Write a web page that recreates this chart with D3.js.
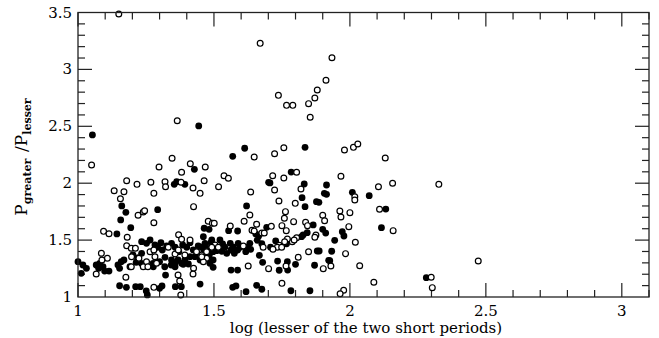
<!DOCTYPE html>
<html><head><meta charset="utf-8">
<script src="https://cdn.jsdelivr.net/npm/d3@7"></script>
<style>body{margin:0;background:#fff}svg{display:block}</style>
</head><body>
<script>
const xTicks=[1,1.5,2,2.5,3];
const yTicks=[1,1.5,2,2.5,3,3.5];
const xTickLabels=["1","1.5","2","2.5","3"];
const yTickLabels=["1","1.5","2","2.5","3","3.5"];
const xTitle="log (lesser of the two short periods)";

const filledX=[1.053,1.444,1.569,1.613,1.835,1.428,
2.009,2.071,2.132,2.116,1.972,1.978,1.944,1.933,1.926,2.281,
1.784,1.701,1.706,1.832,1.914,1.906,1.914,1.824,1.877,1.886,1.620,1.835,1.464,1.482,1.694,1.587,1.554,1.865,1.843,1.828,1.822,1.900,1.911,1.767,1.727,1.708,1.654,1.664,1.659,1.676,1.632,1.624,1.635,1.617,1.667,1.589,1.596,1.571,1.560,1.563,1.587,1.575,1.522,1.532,1.540,1.525,1.510,1.529,1.547,1.461,1.467,1.455,1.479,1.492,1.483,1.463,1.497,1.563,1.587,1.679,1.734,1.770,1.740,1.771,1.800,1.870,1.922,1.880,1.887,1.449,1.569,1.581,1.618,1.657,1.676,1.783,1.853,
1.354,1.363,1.393,1.161,1.176,1.293,1.157,1.194,1.143,
1.234,1.252,1.265,1.283,1.293,1.305,1.310,1.326,1.344,1.357,1.371,1.385,1.400,1.412,1.424,1.442,1.477,1.489,1.497,1.320,1.344,1.357,1.381,1.393,1.406,1.412,1.430,1.449,1.467,1.485,1.497,1.234,1.219,1.191,1.277,1.357,
1.000,1.018,1.031,1.012,1.067,1.080,1.092,1.076,1.098,1.114,1.147,1.159,1.169,1.153,1.202,1.221,1.214,1.233,1.276,1.300,1.319,1.322,1.343,1.368,1.387,1.358,1.380,1.153,1.178,1.212,1.229,1.251,1.255,1.300,1.309];
const filledY=[2.424,2.503,2.236,2.307,2.315,2.122,
1.920,1.890,1.773,1.609,1.574,1.536,1.498,1.402,1.319,1.170,
2.098,2.008,2.002,1.993,1.984,1.911,1.902,1.873,1.838,1.832,1.800,1.794,1.604,1.595,1.612,1.580,1.583,1.633,1.565,1.545,1.530,1.595,1.562,1.468,1.492,1.437,1.554,1.533,1.498,1.468,1.472,1.437,1.419,1.398,1.366,1.472,1.437,1.437,1.472,1.413,1.413,1.384,1.501,1.466,1.437,1.437,1.407,1.402,1.384,1.530,1.472,1.437,1.413,1.501,1.369,1.398,1.261,1.237,1.237,1.305,1.316,1.310,1.235,1.237,1.287,1.279,1.322,1.404,1.404,1.114,1.085,1.097,1.047,1.103,1.068,1.055,1.055,
1.990,2.013,1.990,1.800,1.744,1.767,1.677,1.609,1.554,
1.486,1.472,1.501,1.457,1.437,1.477,1.413,1.448,1.472,1.437,1.398,1.457,1.437,1.477,1.413,1.448,1.428,1.477,1.398,1.349,1.325,1.301,1.296,1.325,1.290,1.354,1.354,1.325,1.340,1.296,1.325,1.384,1.325,1.266,1.266,1.266,
1.310,1.281,1.252,1.208,1.281,1.296,1.266,1.252,1.228,1.228,1.281,1.310,1.325,1.252,1.369,1.345,1.305,1.296,1.296,1.310,1.266,1.193,1.281,1.325,1.287,1.091,1.091,1.099,1.085,1.091,1.091,1.053,1.018,1.076,1.097];

const openX=[1.150,1.050,1.365,1.670,1.934,1.912,1.880,1.871,1.848,1.854,1.737,1.767,1.790,1.648,1.723,1.757,1.980,2.013,2.029,2.130,1.298,1.346,1.413,1.468,
1.967,2.018,2.018,2.105,2.157,2.327,1.963,1.967,2.000,2.109,2.159,1.996,2.020,1.984,1.930,2.036,2.472,2.299,2.088,2.303,1.977,1.964,
1.464,1.449,1.537,1.553,1.517,1.635,1.716,1.757,1.804,1.820,1.723,1.739,1.799,1.763,1.632,1.759,1.900,1.907,1.611,1.479,1.494,1.501,1.560,1.657,1.640,1.648,1.676,1.685,1.711,1.750,1.766,1.793,1.837,1.844,1.875,1.871,1.804,1.788,1.795,1.770,1.760,1.740,1.733,1.749,1.717,1.681,1.608,1.504,1.516,1.492,1.455,1.473,1.461,1.626,1.701,1.765,1.810,1.902,1.848,1.750,
1.381,1.179,1.217,1.268,1.320,1.322,1.379,1.423,1.133,1.169,1.279,1.156,1.221,1.240,1.245,1.425,1.279,1.094,1.114,1.181,1.370,1.265,1.283,1.332,1.357,1.369,1.381,1.393,1.412,1.425,1.436,1.455,1.473,1.197,1.252,1.289,1.240,
1.179,1.196,1.211,1.279,1.086,1.108,1.067,1.088,1.196,1.176,1.224,1.257,1.368,1.374,1.378,1.423,1.279];
const openY=[3.487,2.160,2.549,3.229,3.103,2.904,2.819,2.749,2.699,2.579,2.772,2.684,2.684,2.230,2.259,2.312,2.292,2.315,2.344,2.221,2.142,2.219,2.171,2.142,
2.061,1.881,1.852,1.969,1.999,1.990,1.756,1.703,1.741,1.771,1.583,1.618,1.481,1.381,1.272,1.275,1.316,1.173,1.129,1.082,1.059,1.029,
2.022,1.911,2.066,2.043,1.969,1.923,2.066,2.046,2.096,1.949,1.940,1.844,1.823,1.750,1.721,1.692,1.718,1.670,1.665,1.665,1.648,1.648,1.624,1.639,1.586,1.580,1.562,1.562,1.621,1.627,1.583,1.662,1.656,1.627,1.545,1.525,1.521,1.486,1.501,1.510,1.486,1.454,1.437,1.437,1.419,1.437,1.448,1.457,1.437,1.437,1.369,1.340,1.310,1.272,1.249,1.272,1.349,1.249,1.398,1.120,
2.096,2.022,1.990,2.008,2.013,1.969,2.008,1.958,1.934,1.925,1.911,1.864,1.718,1.747,1.758,1.794,1.653,1.577,1.556,1.525,1.547,1.398,1.354,1.437,1.378,1.413,1.507,1.369,1.501,1.252,1.398,1.354,1.398,1.354,1.310,1.296,1.266,
1.451,1.428,1.428,1.413,1.384,1.340,1.202,1.325,1.266,1.173,1.340,1.266,1.193,1.141,1.018,1.202,1.085];

const W=659,H=338;
const L=78,R=649,T=12.5,B=297;
const svg=d3.select("body").append("svg").attr("width",W).attr("height",H);
const x=d3.scaleLinear().domain([1,3.1]).range([L,R]);
const y=d3.scaleLinear().domain([1,3.5]).range([B,T]);

const g=svg.append("g");
const minorX=d3.range(1.1,3.1001,0.1).map(v=>+v.toFixed(2)).filter(v=>!xTicks.includes(v));
const minorY=d3.range(1.1,3.5,0.1).map(v=>+v.toFixed(2)).filter(v=>!yTicks.includes(v));
const tickColor="#222";
function tickLines(sel,vals,len,orient){
  vals.forEach(v=>{
    if(orient==="b") sel.append("line").attr("x1",x(v)).attr("x2",x(v)).attr("y1",B).attr("y2",B-len);
    if(orient==="t") sel.append("line").attr("x1",x(v)).attr("x2",x(v)).attr("y1",T).attr("y2",T+len);
    if(orient==="l") sel.append("line").attr("y1",y(v)).attr("y2",y(v)).attr("x1",L).attr("x2",L+len);
    if(orient==="r") sel.append("line").attr("y1",y(v)).attr("y2",y(v)).attr("x1",R).attr("x2",R-len);
  });
}
const tk=g.append("g").attr("stroke",tickColor).attr("stroke-width",1.2);
tickLines(tk,xTicks,14,"b");tickLines(tk,xTicks,14,"t");
tickLines(tk,minorX,7,"b");tickLines(tk,minorX,7,"t");
tickLines(tk,yTicks.slice(1,-1),14,"l");tickLines(tk,yTicks.slice(1,-1),14,"r");
tickLines(tk,minorY,7,"l");tickLines(tk,minorY,7,"r");

// points
const pts=svg.append("g");
const filled=filledX.map((v,i)=>({x:v,y:filledY[i]}));
const open=openX.map((v,i)=>({x:v,y:openY[i]}));
pts.selectAll("circle.f").data(filled).join("circle").attr("class","f")
  .attr("cx",d=>x(d.x)).attr("cy",d=>y(d.y)).attr("r",3.4).attr("fill","#000");
pts.selectAll("circle.o").data(open).join("circle").attr("class","o")
  .attr("cx",d=>x(d.x)).attr("cy",d=>y(d.y)).attr("r",2.9).attr("fill","#fff").attr("stroke","#000").attr("stroke-width",1.2);

svg.append("rect").attr("x",L).attr("y",T).attr("width",R-L).attr("height",B-T)
  .attr("fill","none").attr("stroke",tickColor).attr("stroke-width",1.3);

const font="'DejaVu Serif','Liberation Serif',serif";
svg.append("g").selectAll("text").data(xTicks).join("text")
  .attr("x",d=>x(d)).attr("y",316).attr("text-anchor","middle")
  .attr("font-family",font).attr("font-size",15).text((d,i)=>xTickLabels[i]);
svg.append("g").selectAll("text").data(yTicks).join("text")
  .attr("x",72).attr("y",d=>y(d)+5).attr("text-anchor","end")
  .attr("font-family",font).attr("font-size",15).text((d,i)=>yTickLabels[i]);

svg.append("text").attr("x",366).attr("y",333).attr("text-anchor","middle")
  .attr("font-family",font).attr("font-size",15).text(xTitle);

const yl=svg.append("text").attr("transform","translate(27,157) rotate(-90)")
  .attr("text-anchor","middle").attr("font-family",font).attr("font-size",17);
yl.append("tspan").text("P");
yl.append("tspan").attr("font-size",11).attr("font-weight","bold").attr("dy",4).text("greater");
yl.append("tspan").attr("dy",-4).text("\u2009\u2009/P");
yl.append("tspan").attr("font-size",11).attr("font-weight","bold").attr("dy",4).text("lesser");
</script>
</body></html>
